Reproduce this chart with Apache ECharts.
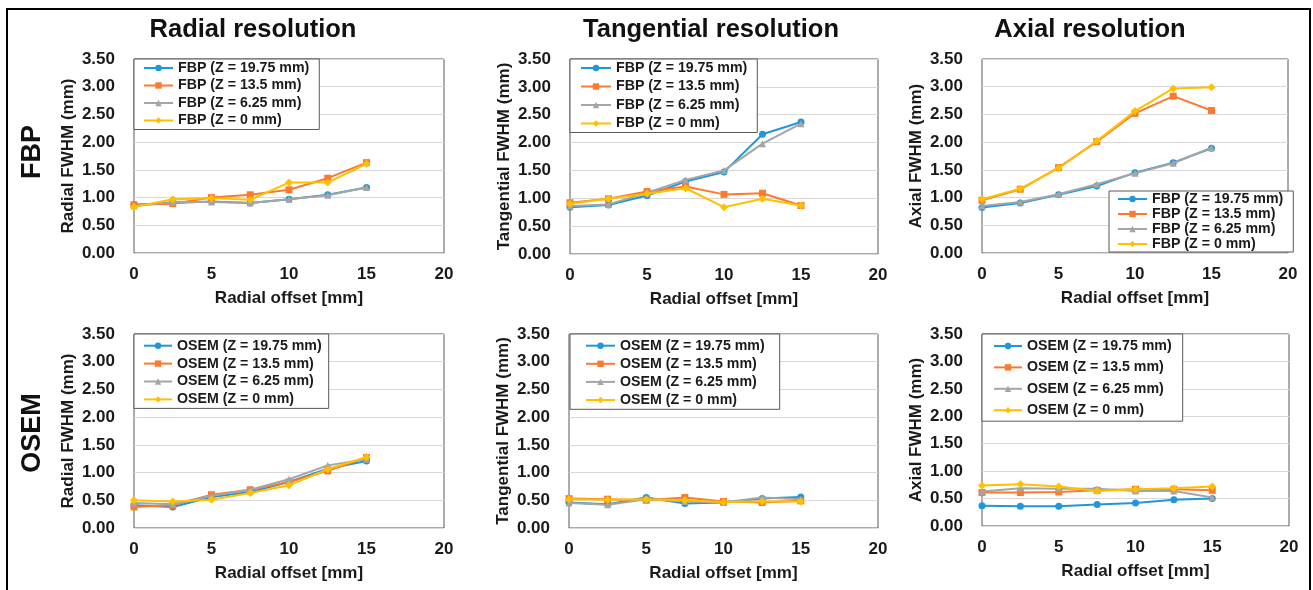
<!DOCTYPE html>
<html><head><meta charset="utf-8">
<script src="https://cdn.jsdelivr.net/npm/echarts@6/dist/echarts.min.js"></script>
<style>html,body{margin:0;padding:0;background:#fff}#c{width:1313px;height:590px}</style>
</head><body><div id="c"></div>
<script>
// ---------- data ----------
const xOffsets = [0, 2.5, 5, 7.5, 10, 12.5, 15];
const panelTitles = ['Radial resolution', 'Tangential resolution', 'Axial resolution'];
const rowLabels = ['FBP', 'OSEM'];
const yAxisNames = ['Radial FWHM (mm)', 'Tangential FWHM (mm)', 'Axial FWHM (mm)'];
const xAxisName = 'Radial offset [mm]';
const fbpNames = ['FBP (Z = 19.75 mm)', 'FBP (Z = 13.5 mm)', 'FBP (Z = 6.25 mm)', 'FBP (Z = 0 mm)'];
const osemNames = ['OSEM (Z = 19.75 mm)', 'OSEM (Z = 13.5 mm)', 'OSEM (Z = 6.25 mm)', 'OSEM (Z = 0 mm)'];

// FBP radial
const fbpRadialZ1975 = [0.87, 0.90, 0.93, 0.90, 0.97, 1.05, 1.18];
const fbpRadialZ135  = [0.87, 0.89, 1.00, 1.05, 1.14, 1.35, 1.63];
const fbpRadialZ625  = [0.85, 0.92, 0.92, 0.90, 0.97, 1.04, 1.18];
const fbpRadialZ0    = [0.83, 0.97, 0.99, 0.96, 1.27, 1.27, 1.61];
// FBP tangential
const fbpTangZ1975 = [0.84, 0.88, 1.05, 1.30, 1.47, 2.15, 2.37];
const fbpTangZ135  = [0.92, 0.99, 1.12, 1.21, 1.07, 1.09, 0.87];
const fbpTangZ625  = [0.86, 0.89, 1.10, 1.33, 1.50, 1.98, 2.34];
const fbpTangZ0    = [0.90, 0.99, 1.08, 1.18, 0.84, 0.99, 0.87];
// FBP axial
const fbpAxialZ1975 = [0.82, 0.90, 1.05, 1.21, 1.45, 1.63, 1.89];
const fbpAxialZ135  = [0.95, 1.15, 1.54, 2.01, 2.52, 2.83, 2.57];
const fbpAxialZ625  = [0.85, 0.92, 1.06, 1.24, 1.44, 1.62, 1.90];
const fbpAxialZ0    = [0.97, 1.16, 1.53, 2.02, 2.56, 2.97, 2.99];
// OSEM radial
const osemRadialZ1975 = [0.41, 0.38, 0.56, 0.65, 0.83, 1.07, 1.21];
const osemRadialZ135  = [0.38, 0.41, 0.60, 0.69, 0.83, 1.03, 1.27];
const osemRadialZ625  = [0.45, 0.43, 0.58, 0.69, 0.88, 1.13, 1.24];
const osemRadialZ0    = [0.50, 0.48, 0.51, 0.63, 0.77, 1.06, 1.28];
// OSEM tangential
const osemTangZ1975 = [0.46, 0.43, 0.55, 0.44, 0.46, 0.53, 0.56];
const osemTangZ135  = [0.53, 0.52, 0.50, 0.55, 0.48, 0.46, 0.49];
const osemTangZ625  = [0.45, 0.42, 0.52, 0.48, 0.46, 0.55, 0.52];
const osemTangZ0    = [0.52, 0.51, 0.52, 0.50, 0.47, 0.48, 0.48];
// OSEM axial
const osemAxialZ1975 = [0.37, 0.36, 0.36, 0.39, 0.42, 0.48, 0.50];
const osemAxialZ135  = [0.61, 0.61, 0.62, 0.65, 0.67, 0.67, 0.65];
const osemAxialZ625  = [0.63, 0.69, 0.68, 0.68, 0.64, 0.64, 0.52];
const osemAxialZ0    = [0.74, 0.76, 0.72, 0.64, 0.67, 0.69, 0.72];

const panelData = [
  [fbpRadialZ1975, fbpRadialZ135, fbpRadialZ625, fbpRadialZ0],
  [fbpTangZ1975, fbpTangZ135, fbpTangZ625, fbpTangZ0],
  [fbpAxialZ1975, fbpAxialZ135, fbpAxialZ625, fbpAxialZ0],
  [osemRadialZ1975, osemRadialZ135, osemRadialZ625, osemRadialZ0],
  [osemTangZ1975, osemTangZ135, osemTangZ625, osemTangZ0],
  [osemAxialZ1975, osemAxialZ135, osemAxialZ625, osemAxialZ0]
];

// ---------- styles / layout ----------
const FONT = '"Liberation Sans", Arial, sans-serif';
const colors = ['#1f97d8', '#fb7a2e', '#a5a5a5', '#ffc000'];
const symbols = ['circle', 'rect', 'triangle', 'diamond'];
const symbolSizes = [7, 7, 7, 8];

const grids = [
  {left: 134, top: 59, width: 310, height: 194},
  {left: 570, top: 59, width: 308, height: 195},
  {left: 982, top: 59, width: 306, height: 194},
  {left: 134, top: 334, width: 310, height: 194},
  {left: 569, top: 334, width: 309, height: 194},
  {left: 982, top: 334, width: 307, height: 192}
];
const legendLayouts = [
  {left: 134, top: 59, padding: [2, 10, 2, 9], itemGap: 3.5, itemWidth: 29, itemTextGap: 2},
  {left: 570, top: 59, padding: [2, 10, 2, 10], itemGap: 4.5, itemWidth: 30, itemTextGap: 2},
  {left: 1109, top: 191, padding: [1, 10, 1, 8], itemGap: 1, itemWidth: 29, itemTextGap: 2},
  {left: 134, top: 334, padding: [4.7, 7, 2, 9], itemGap: 3.9, itemWidth: 28, itemTextGap: 2},
  {left: 570, top: 334, padding: [4.7, 15, 2.3, 15], itemGap: 4.1, itemWidth: 29, itemTextGap: 2},
  {left: 982, top: 334, padding: [5, 11, 4, 11], itemGap: 7.4, itemWidth: 28, itemTextGap: 3}
];

const option = {
  backgroundColor: '#fff',
  animation: false,
  grid: [], xAxis: [], yAxis: [], series: [], legend: [],
  graphic: []
};

for (let p = 0; p < 6; p++) {
  const names = p < 3 ? fbpNames : osemNames;
  option.grid.push(Object.assign({
    show: true, borderColor: '#595959', borderWidth: 1, backgroundColor: '#fff', containLabel: false
  }, grids[p]));
  option.xAxis.push({
    type: 'value', gridIndex: p, min: 0, max: 20, interval: 5,
    name: xAxisName, nameLocation: 'middle', nameGap: 37,
    nameTextStyle: {fontFamily: FONT, fontWeight: 'bold', fontSize: 17, color: '#1a1a1a'},
    axisLine: {show: false}, axisTick: {show: false}, splitLine: {show: false},
    axisLabel: {fontFamily: FONT, fontWeight: 'bold', fontSize: 17, color: '#1a1a1a', margin: 13}
  });
  option.yAxis.push({
    type: 'value', gridIndex: p, min: 0, max: 3.5, interval: 0.5,
    name: yAxisNames[p % 3], nameLocation: 'middle', nameGap: 57,
    nameTextStyle: {fontFamily: FONT, fontWeight: 'bold', fontSize: 17, color: '#1a1a1a'},
    axisLine: {show: false}, axisTick: {show: false},
    splitLine: {show: true, lineStyle: {color: '#d9d9d9', width: 1}},
    axisLabel: {fontFamily: FONT, fontWeight: 'bold', fontSize: 17, color: '#1a1a1a', margin: 19,
      formatter: v => v.toFixed(2)}
  });
  for (let s = 0; s < 4; s++) {
    option.series.push({
      type: 'line', name: names[s], xAxisIndex: p, yAxisIndex: p,
      data: xOffsets.map((x, i) => [x, panelData[p][s][i]]),
      symbol: symbols[s], symbolSize: symbolSizes[s], showSymbol: true,
      lineStyle: {color: colors[s], width: 2},
      itemStyle: {color: colors[s], borderWidth: 0},
      z: 2 + s
    });
  }
  option.legend.push(Object.assign({
    orient: 'vertical', data: names.slice(), itemHeight: 8,
    borderColor: '#595959', borderWidth: 1, backgroundColor: '#fff',
    selectedMode: false,
    textStyle: {fontFamily: FONT, fontWeight: 'bold', fontSize: 14.2, color: '#1a1a1a'}
  }, legendLayouts[p]));
}

// titles
const titleXs = [253, 711, 1090];
panelTitles.forEach((t, i) => {
  option.graphic.push({type: 'text', x: titleXs[i], y: 30, z: 10,
    style: {text: t, fill: '#111', font: 'bold 25.5px ' + FONT, align: 'center', verticalAlign: 'middle'}});
});
// row labels
const rowYs = [152, 433];
rowLabels.forEach((t, i) => {
  option.graphic.push({type: 'text', x: 33, y: rowYs[i], rotation: Math.PI / 2, z: 10,
    style: {text: t, fill: '#111', font: 'bold 27px ' + FONT, align: 'center', verticalAlign: 'middle'}});
});
// outer frame
option.graphic.push({type: 'rect', z: 0, silent: true,
  shape: {x: 7, y: 9, width: 1303, height: 620},
  style: {fill: 'none', stroke: '#000', lineWidth: 2}});

const chart = echarts.init(document.getElementById('c'), null, {renderer: 'canvas'});
chart.setOption(option);
</script></body></html>
